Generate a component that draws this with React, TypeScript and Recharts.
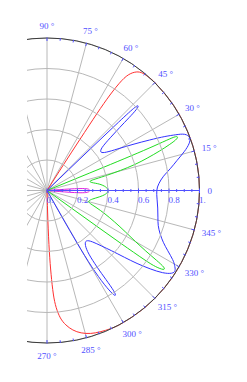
import React from 'react';
import {
  ComposedChart,
  Line,
  Scatter,
  XAxis,
  YAxis,
  ReferenceLine,
  ReferenceDot,
} from 'recharts';

// ---------- data (angles in degrees, radii 0..1) ----------
const redAngles = [57.6, 57.4, 57.2, 57.0, 56.6, 55.8, 54.5, 52.5, 50.0, 47.0, 44, 36, 28, 20, 12, 4, -4, -12, -20, -28, -36, -44, -52, -60, -65, -69.4, -73, -76.5, -79.5, -82, -84, -85.5, -86.5, -87.2, -87.8, -88.3, -88.6];
const redRadii = [0, 0.2, 0.4, 0.6, 0.75, 0.87, 0.94, 0.98, 0.995, 1, 1, 1, 1, 1, 1, 1, 1, 1, 1, 1, 1, 1, 1, 1, 0.998, 0.99, 0.98, 0.96, 0.93, 0.89, 0.84, 0.77, 0.68, 0.55, 0.4, 0.2, 0];

const blueAngles = [-60.8, -60.5, -60.2, -59.6, -58.6, -57.6, -56.9, -56.4, -56.5, -56.8, -56.6, -55, -52, -48.5, -45.5, -43, -40.8, -39, -37.2, -35.4, -33.6, -32, -30.4, -28.8, -26.5, -24, -21, -17.5, -13.5, -9, -4.5, 0, 3.5, 7, 10, 13, 15.8, 18.2, 20.3, 22.2, 23.4, 24.6, 26.2, 28.2, 30.4, 32.8, 35.4, 38, 39.8, 40.9, 41.6, 42.2, 42.9, 43.5, 43.7, 43.8, 43.9, 44];
const blueRadii = [0, 0.2, 0.4, 0.58, 0.72, 0.8, 0.82, 0.79, 0.7, 0.6, 0.5, 0.44, 0.42, 0.45, 0.51, 0.58, 0.67, 0.76, 0.85, 0.93, 0.98, 0.99, 0.97, 0.94, 0.885, 0.835, 0.795, 0.765, 0.748, 0.735, 0.724, 0.72, 0.735, 0.77, 0.82, 0.875, 0.935, 0.98, 0.997, 0.975, 0.92, 0.85, 0.75, 0.64, 0.54, 0.465, 0.435, 0.46, 0.54, 0.63, 0.72, 0.79, 0.815, 0.77, 0.6, 0.4, 0.2, 0];

const greenAngles = [22.3, 22.3, 22.3, 22.4, 22.6, 22.8, 22.6, 21.7, 20.6, 19.3, 17.9, 16.5, 15.3, 14.3, 13.4, 12.3, 10, 7, 3.5, 0, -3.5, -7, -10.5, -13.5, -16.2, -19, -22, -25, -27.8, -30, -31.5, -32.5, -33.3, -34.2, -35, -35.4, -35.6, -35.7, -35.8, -35.8];
const greenRadii = [0, 0.2, 0.4, 0.6, 0.76, 0.87, 0.92, 0.915, 0.86, 0.78, 0.69, 0.6, 0.5, 0.41, 0.33, 0.29, 0.3, 0.345, 0.385, 0.4, 0.385, 0.345, 0.305, 0.285, 0.29, 0.34, 0.41, 0.49, 0.58, 0.67, 0.76, 0.85, 0.915, 0.92, 0.87, 0.78, 0.6, 0.4, 0.2, 0];

const magentaAngles = [-4.8, -4.7, -4.5, -4.0, -3.0, -1.5, 0, 1.5, 2.7, 3.4, 3.8, 3.9, 4.0];
const magentaRadii = [0, 0.08, 0.15, 0.21, 0.255, 0.275, 0.28, 0.275, 0.255, 0.21, 0.15, 0.08, 0];

// ---------- axes / grid ticks ----------
const spokeAngles = [0, 15, 30, 45, 60, 75, 90, 105, 120, 135, 150, 165, 180, 195, 210, 225, 240, 255, 270, 285, 300, 315, 330, 345];
const ringRadii = [0.2, 0.4, 0.6, 0.8, 1];
const angleTicks = [270, 275, 280, 285, 290, 295, 300, 305, 310, 315, 320, 325, 330, 335, 340, 345, 350, 355, 0, 5, 10, 15, 20, 25, 30, 35, 40, 45, 50, 55, 60, 65, 70, 75, 80, 85, 90];
const angleLabelValues = [270, 285, 300, 315, 330, 345, 0, 15, 30, 45, 60, 75, 90];
const angleLabelTexts = ['270 °', '285 °', '300 °', '315 °', '330 °', '345 °', '0', '15 °', '30 °', '45 °', '60 °', '75 °', '90 °'];
const radiusTicks = [0, 0.05, 0.1, 0.15, 0.2, 0.25, 0.3, 0.35, 0.4, 0.45, 0.5, 0.55, 0.6, 0.65, 0.7, 0.75, 0.8, 0.85, 0.9, 0.95, 1];
const radiusLabelValues = [0, 0.2, 0.4, 0.6, 0.8, 1];
const radiusLabelTexts = ['0.', '0.2', '0.4', '0.6', '0.8', '1.'];

// ---------- layout ----------
const W = 247;
const H = 382;
const CX = 47;
const CY = 190.5;
const R = 152.5; // pixels per unit radius
const CLIP_LEFT = 27;
const X_MIN = -CX / R;
const X_MAX = (W - CX) / R;
const Y_MAX = CY / R;
const Y_MIN = -(H - CY) / R;

const LABEL = '#5050ff';
const GRID = '#b8b8b8';
const FONT = '"Liberation Serif", "DejaVu Serif", serif';

const rad = (a: number) => (a * Math.PI) / 180;
const toXY = (angles: number[], radii: number[]) =>
  angles.map((a, i) => ({ x: radii[i] * Math.cos(rad(a)), y: radii[i] * Math.sin(rad(a)) }));

const redData = toXY(redAngles, redRadii);
const blueData = toXY(blueAngles, blueRadii);
const greenData = toXY(greenAngles, greenRadii);
const magentaData = toXY(magentaAngles, magentaRadii);

const angleTickData = angleTicks.map((a) => ({ x: Math.cos(rad(a)), y: Math.sin(rad(a)), a }));
const radiusTickData = radiusTicks.map((r) => ({ x: r, y: 0, r }));

const charWidth = (c: string) => (c === ' ' ? 2.25 : c === '°' ? 3.6 : c === '.' ? 2.25 : 4.5);
const textWidth = (t: string) => t.split('').reduce((s, c) => s + charWidth(c), 0);

const AngleTickShape = (props: any) => {
  const { cx, cy, payload } = props;
  const v = Number(payload.a);
  const ux = Math.cos(rad(v));
  const uy = -Math.sin(rad(v));
  const major = v % 15 === 0;
  const len = major ? 3 : 2.2;
  const idx = angleLabelValues.indexOf(v);
  let label = null;
  if (idx >= 0) {
    const text = angleLabelTexts[idx];
    const w = textWidth(text);
    const ax = cx + 8 * ux;
    const ay = cy + 8 * uy;
    const tx = ax + (ux * w) / 2;
    const ty = ay + uy * 4.5 + 3.2;
    label = (
      <text x={tx} y={ty} textAnchor="middle" fill={LABEL} fontSize={9} fontFamily={FONT}>
        {text}
      </text>
    );
  }
  return (
    <g>
      <line x1={cx + 0.5 * ux} y1={cy + 0.5 * uy} x2={cx - len * ux} y2={cy - len * uy} stroke={LABEL} strokeWidth={1} />
      {label}
    </g>
  );
};

const RadiusTickShape = (props: any) => {
  const { cx, cy, payload } = props;
  const v = Number(payload.r);
  const idx = radiusLabelValues.findIndex((r) => Math.abs(r - v) < 1e-6);
  const major = idx >= 0;
  return (
    <g>
      <line x1={cx} y1={cy - (major ? 2 : 1.5)} x2={cx} y2={cy + (major ? 2.5 : 1.5)} stroke={LABEL} strokeWidth={1} />
      {major && (
        <text x={cx - 0.5} y={cy + 12.5} textAnchor="start" fill={LABEL} fontSize={9} fontFamily={FONT}>
          {radiusLabelTexts[idx]}
        </text>
      )}
    </g>
  );
};

const noMargin = { top: 0, right: 0, bottom: 0, left: 0 };

export default function App() {
  return (
    <div
      style={{
        position: 'absolute',
        left: 0,
        top: 0,
        width: W,
        height: H,
        background: '#fff',
        clipPath: `inset(0px 0px 0px ${CLIP_LEFT}px)`,
        overflow: 'hidden',
      }}
    >
      <ComposedChart width={W} height={H} margin={noMargin}>
        <XAxis type="number" dataKey="x" domain={[X_MIN, X_MAX]} allowDataOverflow hide />
        <YAxis type="number" dataKey="y" domain={[Y_MIN, Y_MAX]} allowDataOverflow hide />

        {/* polar grid: spokes and rings */}
        {spokeAngles.map((a) => (
          <ReferenceLine
            key={`s${a}`}
            segment={[
              { x: 0, y: 0 },
              { x: Math.cos(rad(a)), y: Math.sin(rad(a)) },
            ]}
            stroke={GRID}
            strokeWidth={1}
            ifOverflow="visible"
          />
        ))}
        {ringRadii.map((r) => (
          <ReferenceDot
            key={`c${r}`}
            x={0}
            y={0}
            r={r * R}
            fill="none"
            stroke={GRID}
            strokeWidth={1}
            ifOverflow="visible"
          />
        ))}

        {/* curves */}
        <Line data={redData} dataKey="y" type="natural" stroke="#ff3030" strokeWidth={1} dot={false} activeDot={false} isAnimationActive={false} />
        <Line data={greenData} dataKey="y" type="natural" stroke="#22dd22" strokeWidth={1} dot={false} activeDot={false} isAnimationActive={false} />
        <Line data={blueData} dataKey="y" type="natural" stroke="#3333ff" strokeWidth={1} dot={false} activeDot={false} isAnimationActive={false} />
        <Line data={magentaData} dataKey="y" type="natural" stroke="#e020e0" strokeWidth={1} dot={false} activeDot={false} isAnimationActive={false} />

        {/* outer frame circle */}
        <ReferenceDot x={0} y={0} r={R} fill="none" stroke="#1c1c1c" strokeOpacity={0.8} strokeWidth={1} ifOverflow="visible" />

        {/* radial axis along 0 degrees */}
        <ReferenceLine
          segment={[
            { x: 0, y: 0 },
            { x: 1, y: 0 },
          ]}
          stroke={LABEL}
          strokeWidth={1}
          ifOverflow="visible"
        />
        <Scatter data={radiusTickData} shape={RadiusTickShape} isAnimationActive={false} />
        <Scatter data={angleTickData} shape={AngleTickShape} isAnimationActive={false} />
      </ComposedChart>
    </div>
  );
}
